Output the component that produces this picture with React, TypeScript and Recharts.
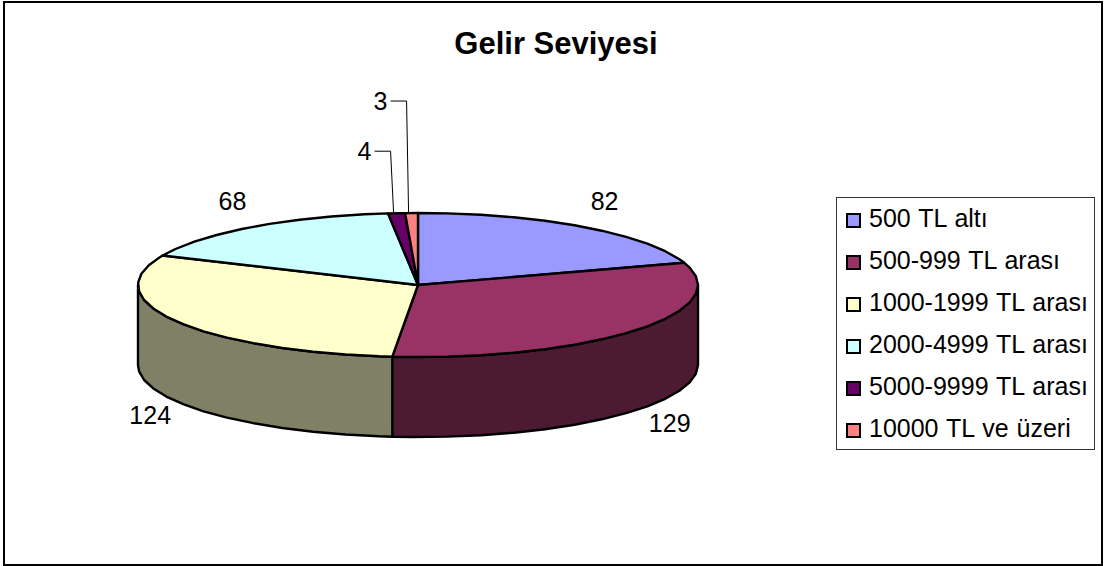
import React from "react";
import { PieChart, Pie, Legend } from "recharts";

const categories = [
  "500 TL altı",
  "500-999 TL arası",
  "1000-1999 TL arası",
  "2000-4999 TL arası",
  "5000-9999 TL arası",
  "10000 TL ve üzeri",
];
const values = [82, 129, 124, 68, 4, 3];
const colors = ["#9999FF", "#993366", "#FFFFCC", "#CCFFFF", "#660066", "#FF8080"];
const wallColors = ["#4D4D80", "#4C1A33", "#808066", "#668080", "#330033", "#804040"];
const title = "Gelir Seviyesi";

const CX = 418;
const CY = 285;
const RX = 280;
const RY = 72;
const DEPTH = 80;
const FONT = '"Liberation Sans", Arial, sans-serif';

const tableData = categories.map((name, i) => ({
  name,
  value: values[i],
  fill: colors[i],
  wall: wallColors[i],
}));

// label placement relative to the slice's rim point
const labelOffsets = [
  { dx: 22, dy: -26 },
  { dx: 33, dy: 93 },
  { dx: -26, dy: 94 },
  { dx: -21, dy: -26 },
  { dx: -32, dy: -62 },
  { dx: -31, dy: -112 },
];

const rim = (cx: number, cy: number, a: number, dy = 0): [number, number] => {
  const t = (a * Math.PI) / 180;
  return [cx + RX * Math.cos(t), cy - RY * Math.sin(t) + dy];
};

const arcAngles = (from: number, to: number): number[] => {
  const out = [from];
  const step = 7;
  let a = Math.floor(from / step) * step;
  if (a === from) a -= step;
  while (a > to) {
    out.push(a);
    a -= step;
  }
  out.push(to);
  return out;
};

const fmt = (p: [number, number]) => `${p[0].toFixed(1)},${p[1].toFixed(1)}`;

const SliceShape = (props: any) => {
  const { cx, cy, startAngle, endAngle, fill, payload } = props;
  const s = Math.max(startAngle, endAngle);
  const e = Math.min(startAngle, endAngle);
  const top = arcAngles(s, e).map((a) => rim(cx, cy, a));
  const d = `M${cx},${cy} L${top.map(fmt).join(" L")} Z`;
  const a1 = Math.min(s, 0);
  const a2 = Math.max(e, -180);
  let wall = null;
  if (a1 > a2) {
    const angles = arcAngles(a1, a2);
    const upper = angles.map((a) => rim(cx, cy, a));
    const lower = [...angles].reverse().map((a) => rim(cx, cy, a, DEPTH));
    wall = (
      <path
        d={`M${[...upper, ...lower].map(fmt).join(" L")} Z`}
        fill={payload?.wall ?? props.wall}
        stroke="#000"
        strokeWidth={2.4}
        strokeLinejoin="round"
      />
    );
  }
  return (
    <g>
      {wall}
      <path d={d} fill={fill} stroke="#000" strokeWidth={2.4} strokeLinejoin="round" />
    </g>
  );
};

const SliceLabel = (props: any) => {
  const { cx, cy, midAngle, value, index } = props;
  const o = labelOffsets[index];
  const [x, y] = rim(cx, cy, midAngle);
  const lx = x + o.dx;
  const ly = y + o.dy;
  const leader = index >= 4;
  return (
    <g>
      {leader && (
        <polyline
          points={`${x - 3},${y - 1} ${lx + 26},${ly} ${lx + 10},${ly}`}
          fill="none"
          stroke="#000"
          strokeWidth={1}
        />
      )}
      <text
        x={lx}
        y={ly}
        textAnchor="middle"
        dominantBaseline="central"
        fontFamily={FONT}
        fontSize={25}
        fill="#000"
      >
        {value}
      </text>
    </g>
  );
};

const LegendBox = () => (
  <div
    style={{
      boxSizing: "border-box",
      width: 259,
      height: 253,
      border: "1px solid #333",
      background: "#fff",
      fontFamily: FONT,
      fontSize: 25,
      wordSpacing: 1,
      color: "#000",
    }}
  >
    {categories.map((c, i) => (
      <div
        key={c}
        style={{
          height: 42,
          display: "flex",
          alignItems: "center",
          whiteSpace: "nowrap",
          paddingLeft: 9,
        }}
      >
        <span
          style={{
            boxSizing: "border-box",
            display: "inline-block",
            width: 15,
            height: 15,
            background: colors[i],
            border: "2px solid #000",
            marginRight: 8,
            marginTop: 3,
          }}
        />
        <span style={{ position: "relative", top: -1 }}>{c}</span>
      </div>
    ))}
  </div>
);

export default function App() {
  return (
    <div style={{ position: "absolute", left: 0, top: 0, width: 1106, height: 566, background: "#fff" }}>
      <div
        style={{
          position: "absolute",
          left: 3,
          top: 1,
          width: 1100,
          height: 565,
          boxSizing: "border-box",
          border: "2px solid #000",
        }}
      />
      <div
        style={{
          position: "absolute",
          left: 0,
          top: 26,
          width: 1112,
          textAlign: "center",
          fontFamily: FONT,
          fontSize: 31,
          fontWeight: 700,
          lineHeight: "36px",
          color: "#000",
        }}
      >
        {title}
      </div>
      <PieChart width={1106} height={566} margin={{ top: 0, right: 0, bottom: 0, left: 0 }} style={{ position: "absolute", left: 0, top: 0 }}>
        <Pie
          data={tableData}
          dataKey="value"
          nameKey="name"
          cx={CX}
          cy={CY}
          innerRadius={0}
          outerRadius={RX}
          startAngle={90}
          endAngle={-270}
          isAnimationActive={false}
          shape={SliceShape}
          activeShape={SliceShape}
          label={SliceLabel}
          labelLine={false}
        />
        <Legend
          layout="vertical"
          content={<LegendBox />}
          wrapperStyle={{ position: "absolute", left: 836, top: 197, width: 259, height: 253, right: "auto", bottom: "auto" }}
        />
      </PieChart>
    </div>
  );
}
